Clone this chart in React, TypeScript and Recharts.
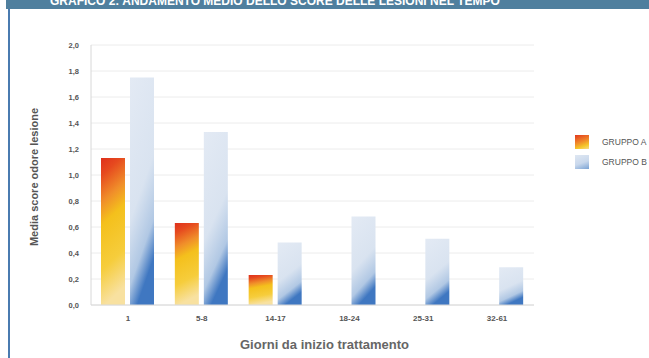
import { BarChart, Bar, XAxis, YAxis, CartesianGrid } from "recharts";

const categories = ["1", "5-8", "14-17", "18-24", "25-31", "32-61"];
const gruppoA = [1.13, 0.63, 0.23, 0, 0, 0];
const gruppoB = [1.75, 1.33, 0.48, 0.68, 0.51, 0.29];
const yTicks = [0, 0.2, 0.4, 0.6, 0.8, 1.0, 1.2, 1.4, 1.6, 1.8, 2.0];

const data = categories.map((name, i) => ({ name, a: gruppoA[i], b: gruppoB[i] }));

const fmt = (v: number) => v.toFixed(1).replace(".", ",");

function LegendBox() {
  const items = [
    { label: "GRUPPO A", bg: "linear-gradient(160deg, #e2381e 0%, #f0862a 45%, #f5c72a 75%, #f8dc8a 100%)" },
    { label: "GRUPPO B", bg: "linear-gradient(160deg, #dfe7f2 0%, #c9d8ec 55%, #7ba3d4 100%)" },
  ];
  return (
    <div style={{ position: "absolute", left: 575, top: 132 }}>
      {items.map((it) => (
        <div key={it.label} style={{ display: "flex", alignItems: "center", height: 20 }}>
          <div style={{ width: 14, height: 14, background: it.bg }} />
          <span
            style={{
              marginLeft: 13,
              fontSize: 8.5,
              color: "#555",
              whiteSpace: "nowrap",
            }}
          >
            {it.label}
          </span>
        </div>
      ))}
    </div>
  );
}

export default function App() {
  return (
    <div
      style={{
        position: "absolute",
        left: 0,
        top: 0,
        width: 649,
        height: 358,
        overflow: "hidden",
        background: "#fff",
        fontFamily: "Liberation Sans, Arial, sans-serif",
      }}
    >
      <div
        style={{
          position: "absolute",
          left: 6,
          top: 0,
          width: 643,
          height: 9,
          background: "#4f7f9e",
          overflow: "hidden",
        }}
      >
        <div
          style={{
            position: "absolute",
            left: 44,
            top: -6,
            color: "#fff",
            fontWeight: 700,
            fontSize: 12,
            whiteSpace: "nowrap",
          }}
        >
          GRAFICO 2: ANDAMENTO MEDIO DELLO SCORE DELLE LESIONI NEL TEMPO
        </div>
      </div>
      <div style={{ position: "absolute", left: 8, top: 9, width: 2, height: 349, background: "#4a7bb0" }} />
      <div
        style={{
          position: "absolute",
          left: 34,
          top: 177,
          transform: "translate(-50%, -50%) rotate(-90deg)",
          fontSize: 11,
          fontWeight: 700,
          color: "#555",
          whiteSpace: "nowrap",
        }}
      >
        Media score odore lesione
      </div>
      <BarChart
        width={649}
        height={358}
        data={data}
        margin={{ top: 45, right: 115, bottom: 0, left: 0 }}
        barSize={24}
        barGap={5}
      >
        <defs>
          <linearGradient id="gradA" x1="0" y1="0" x2="0.15" y2="1">
            <stop offset="0%" stopColor="#df301c" />
            <stop offset="12%" stopColor="#e64a1f" />
            <stop offset="30%" stopColor="#f08e2a" />
            <stop offset="45%" stopColor="#f4c01c" />
            <stop offset="75%" stopColor="#f6cd3c" />
            <stop offset="100%" stopColor="#f8e1a0" />
          </linearGradient>
          <linearGradient id="gradB" x1="0" y1="0" x2="0.3" y2="1">
            <stop offset="0%" stopColor="#e3eaf4" />
            <stop offset="58%" stopColor="#d9e3f0" />
            <stop offset="84%" stopColor="#b1c8e4" />
            <stop offset="100%" stopColor="#3f77c1" />
          </linearGradient>
        </defs>
        <CartesianGrid vertical={false} stroke="#ececec" />
        <XAxis
          dataKey="name"
          height={53}
          tickLine={false}
          axisLine={{ stroke: "#d8d8d8" }}
          tickMargin={4}
          tick={{ fontSize: 8, fill: "#555", fontWeight: 700 }}
          label={{
            value: "Giorni da inizio trattamento",
            position: "insideBottom",
            offset: 9,
            dx: 12,
            style: { fontSize: 13, fontWeight: 700, fill: "#666" },
          }}
        />
        <YAxis
          width={91}
          domain={[0, 2]}
          ticks={yTicks}
          tickFormatter={fmt}
          tickLine={false}
          axisLine={{ stroke: "#d8d8d8" }}
          tickMargin={6}
          tick={{ fontSize: 7.5, fill: "#555", fontWeight: 700 }}
        />
        <Bar dataKey="a" name="GRUPPO A" fill="url(#gradA)" isAnimationActive={false} />
        <Bar dataKey="b" name="GRUPPO B" fill="url(#gradB)" isAnimationActive={false} />
      </BarChart>
      <LegendBox />
    </div>
  );
}
